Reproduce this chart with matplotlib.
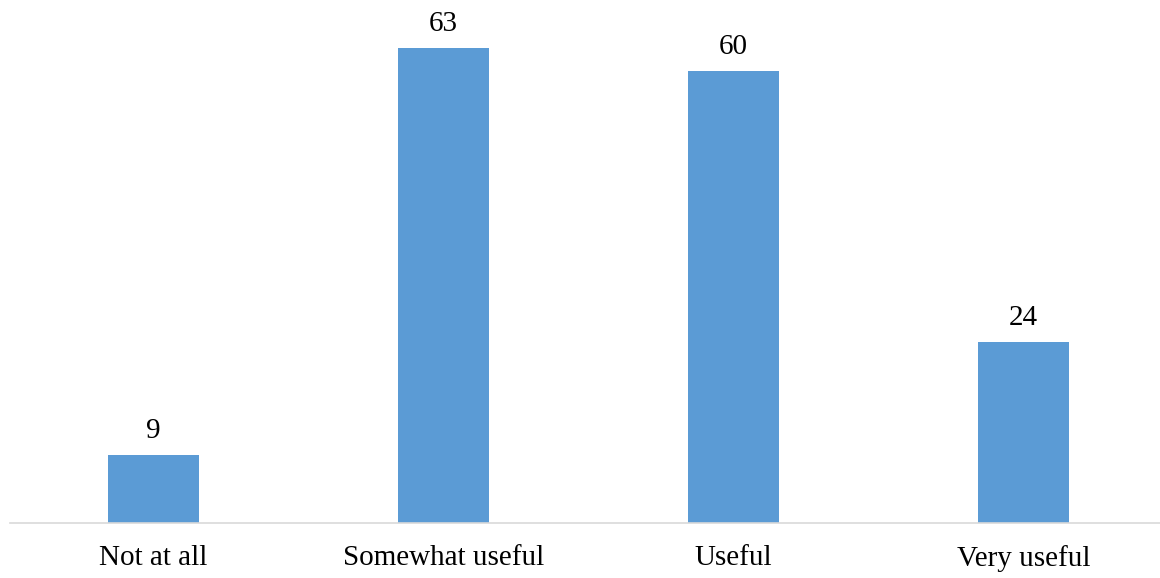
import matplotlib
matplotlib.use("Agg")
import matplotlib.pyplot as plt

categories = ["Not at all", "Somewhat useful", "Useful", "Very useful"]
counts = [9, 63, 60, 24]

plt.rcParams["font.family"] = ["Liberation Serif", "DejaVu Serif"]

fig = plt.figure(figsize=(11.6, 5.78), dpi=100)
ax = fig.add_axes([10 / 1160, 55 / 578, 1160 / 1160, 523 / 578])

x = range(len(categories))
bars = ax.bar(x, counts, width=0.314, color="#5B9BD5", zorder=2)

for b, v in zip(bars, counts):
    ax.annotate(str(v), (b.get_x() + b.get_width() / 2, v),
                xytext=(0, 8), textcoords="offset points",
                ha="center", va="bottom", fontsize=21, color="#000000")

ax.set_xlim(-0.495, 3.505)
ax.set_ylim(0, 69.4)
ax.set_xticks(list(x))
ax.set_xticklabels(categories, fontsize=21)
ax.tick_params(axis="x", length=0, pad=16)
ax.set_yticks([])

for side in ["top", "right", "left"]:
    ax.spines[side].set_visible(False)
ax.spines["bottom"].set_color("#D9D9D9")
ax.spines["bottom"].set_linewidth(1.2)

fig.savefig("out.png", dpi=100)
